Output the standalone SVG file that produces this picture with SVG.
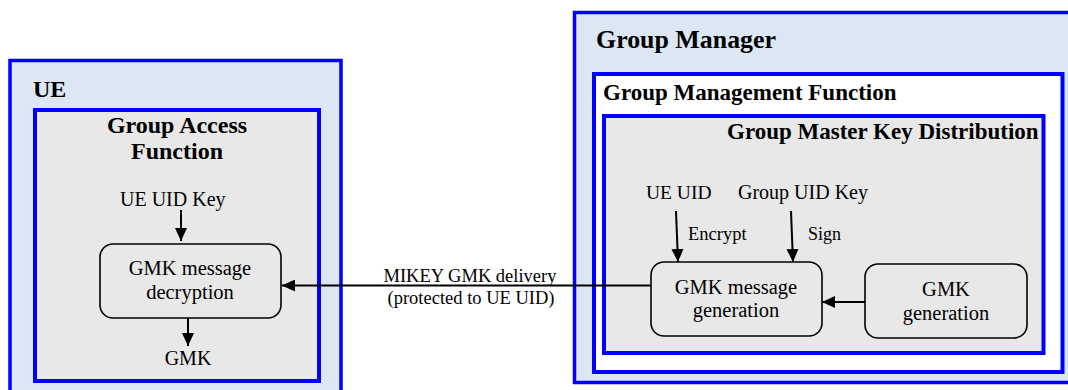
<svg xmlns="http://www.w3.org/2000/svg" width="1068" height="390" viewBox="0 0 1068 390">
<style>
.outer{fill:#dde7f4;stroke:#0000ff;stroke-width:3.5}
.white{fill:#ffffff;stroke:#0000ff;stroke-width:4}
.grey{fill:#e8e8e8;stroke:#0000ff;stroke-width:4}
.proc{fill:#e8e8e8;stroke:#000;stroke-width:1.6}
.b{font-weight:bold}
.c{text-anchor:middle}
.ln{stroke:#000;stroke-width:2;fill:none;marker-end:url(#ah)}
</style>
<defs>
<marker id="ah" markerUnits="userSpaceOnUse" markerWidth="14" markerHeight="12" refX="13" refY="6" orient="auto">
<path d="M0,0 L13,6 L0,12 z" fill="#000"/>
</marker>
</defs>
<rect width="1068" height="390" fill="#fff"/>
<g font-family="Liberation Serif, serif" fill="#000">
<g id="ue">
<rect class="outer" x="10" y="60.5" width="331" height="340"/>
<text class="b" x="33" y="97" font-size="24">UE</text>
</g>
<g id="group-access-function">
<rect class="grey" x="35" y="110" width="284" height="271"/>
<text class="b c" x="177" y="133" font-size="24">Group Access</text>
<text class="b c" x="177" y="159" font-size="24">Function</text>
<text x="120" y="206" font-size="20">UE UID Key</text>
<text class="c" x="188" y="365" font-size="20">GMK</text>
</g>
<g id="gmk-message-decryption">
<rect class="proc" x="100" y="244" width="181" height="74" rx="13"/>
<text class="c" x="190" y="275" font-size="20.5">GMK message</text>
<text class="c" x="190" y="299" font-size="20.5">decryption</text>
</g>
<g id="group-manager">
<rect class="outer" x="574.5" y="12.5" width="510" height="370"/>
<text class="b" x="596" y="48" font-size="25" textLength="180" lengthAdjust="spacingAndGlyphs">Group Manager</text>
</g>
<g id="group-management-function">
<rect class="white" x="594" y="74" width="468.5" height="298"/>
<text class="b" x="603" y="100" font-size="23">Group Management Function</text>
</g>
<g id="group-master-key-distribution">
<rect class="grey" x="604" y="116" width="439.5" height="237"/>
<text class="b" x="727" y="139" font-size="23">Group Master Key Distribution</text>
<text x="646" y="199" font-size="19.5">UE UID</text>
<text x="738" y="199" font-size="20">Group UID Key</text>
<text x="688" y="240" font-size="18.5">Encrypt</text>
<text x="808" y="240" font-size="18">Sign</text>
</g>
<g id="gmk-message-generation">
<rect class="proc" x="651" y="262" width="171" height="74" rx="13"/>
<text class="c" x="736" y="294" font-size="20.5">GMK message</text>
<text class="c" x="736" y="317" font-size="20.5">generation</text>
</g>
<g id="gmk-generation">
<rect class="proc" x="865" y="264" width="162" height="74" rx="13"/>
<text class="c" x="946" y="296" font-size="20.5">GMK</text>
<text class="c" x="946" y="320" font-size="20.5">generation</text>
</g>
<g id="connectors">
<line class="ln" x1="181" y1="210" x2="181" y2="241"/>
<line class="ln" x1="188" y1="318" x2="188" y2="346"/>
<line class="ln" x1="651" y1="285.5" x2="282" y2="285.5"/>
<line class="ln" x1="676" y1="211" x2="678" y2="262"/>
<line class="ln" x1="791" y1="211" x2="793" y2="262"/>
<line class="ln" x1="865" y1="302" x2="822" y2="302"/>
<text class="c" x="470" y="282" font-size="18.5">MIKEY GMK delivery</text>
<text class="c" x="471" y="304" font-size="18.5">(protected to UE UID)</text>
</g>
</g>
</svg>
